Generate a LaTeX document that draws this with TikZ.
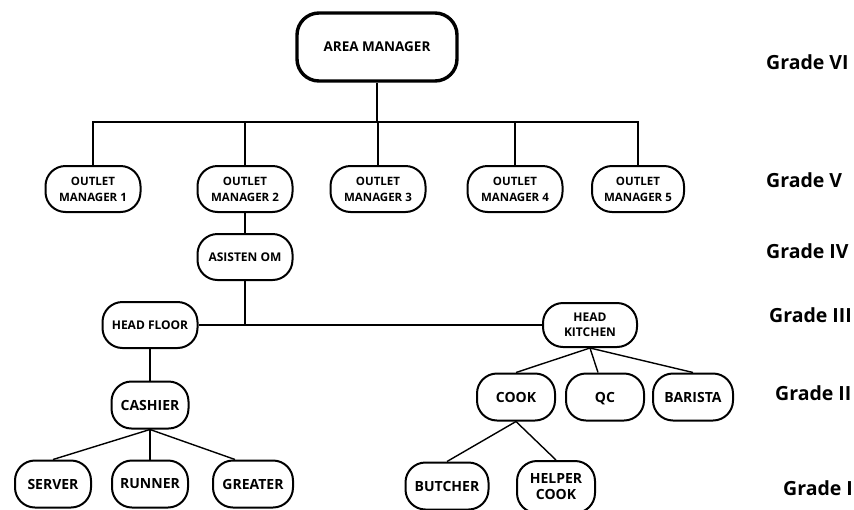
\documentclass[tikz,border=0pt]{standalone}
\usepackage{fontspec}
\setmainfont{Open Sans}
\begin{document}
\begin{tikzpicture}[x=1pt,y=-1pt,
  pill/.style={draw,line width=2pt,rounded corners=20pt,inner sep=0pt,
    minimum height=46pt,align=center,font=\bfseries\fontsize{14}{16}\selectfont},
  small/.style={font=\bfseries\fontsize{11.5}{16}\selectfont},
  mid/.style={font=\bfseries\fontsize{12}{15}\selectfont},
  conn/.style={line width=1.4pt},
  grade/.style={anchor=base west,inner sep=0pt,font=\bfseries\fontsize{19.5}{22}\selectfont}]
\useasboundingbox (0,0) rectangle (854,509);
% top
\node[draw,line width=3.4pt,rounded corners=22pt,minimum width=160pt,minimum height=68pt,
  font=\bfseries\fontsize{13.5}{16}\selectfont] (am) at (377,47) {AREA MANAGER};
% grade V
\node[pill,small,minimum width=95pt] (om1) at (93,189) {OUTLET\\MANAGER 1};
\node[pill,small,minimum width=95pt] (om2) at (245,189) {OUTLET\\MANAGER 2};
\node[pill,small,minimum width=95pt] (om3) at (378,189) {OUTLET\\MANAGER 3};
\node[pill,small,minimum width=95pt] (om4) at (515,189) {OUTLET\\MANAGER 4};
\node[pill,small,minimum width=92pt] (om5) at (638,189) {OUTLET\\MANAGER 5};
% grade IV
\node[pill,mid,minimum width=95pt] (ao) at (245,257) {ASISTEN OM};
% grade III
\node[pill,mid,minimum width=95pt] (hf) at (150,325) {HEAD FLOOR};
\node[pill,mid,minimum width=94pt,minimum height=44pt] (hk) at (590,325) {HEAD\\KITCHEN};
% grade II
\node[pill,minimum width=77pt,minimum height=47pt] (ca) at (150,405) {CASHIER};
\node[pill,minimum width=78pt,minimum height=47pt] (co) at (516,397) {COOK};
\node[pill,minimum width=78pt,minimum height=47pt,text depth=0pt] (qc) at (605,397) {QC};
\node[pill,minimum width=80pt,minimum height=47pt] (ba) at (693,397) {BARISTA};
% grade I
\node[pill,minimum width=76pt,minimum height=47pt] (se) at (53,484) {SERVER};
\node[pill,minimum width=76pt,minimum height=47pt] (ru) at (150,484) {RUNNER};
\node[pill,minimum width=80pt,minimum height=47pt] (gr) at (253,484) {GREATER};
\node[pill,minimum width=83pt,minimum height=47pt] (bu) at (447,486) {BUTCHER};
\node[pill,minimum width=78pt,minimum height=52pt] (hc) at (556,487) {HELPER\\COOK};
% connectors
\coordinate (bus) at (0,122);
\draw[conn] (om1.north) |- (bus -| om5.north) -- (om5.north);
\draw[conn] (am.south) -- (am.south |- bus);
\draw[conn] (om2.north) -- (om2.north |- bus);
\draw[conn] (om3.north) -- (om3.north |- bus);
\draw[conn] (om4.north) -- (om4.north |- bus);
\draw[conn] (om2.south) -- (ao.north);
\draw[conn] (hf.east) -- (hk.west);
\draw[conn] (ao.south) -- (ao.south |- hf.east);
\draw[conn] (hf.south) -- (ca.north);
\draw[conn] (ca.south) -- (se.north);
\draw[conn] (ca.south) -- (ru.north);
\draw[conn] (ca.south) -- ([xshift=-18pt]gr.north);
\draw[conn] (hk.south) -- (co.north);
\draw[conn] (hk.south) -- ([xshift=-7pt]qc.north);
\draw[conn] (hk.south) -- (ba.north);
\draw[conn] (co.south) -- (bu.north);
\draw[conn] (co.south) -- (hc.north);
% grades
\node[grade] (g6) at (766,69) {Grade VI};
\node[grade] (g5) at (766,187) {Grade V};
\node[grade] (g4) at (766,258) {Grade IV};
\node[grade] (g3) at (769,322) {Grade III};
\node[grade] (g2) at (775,400) {Grade II};
\node[grade] (g1) at (783,495) {Grade I};
\end{tikzpicture}
\end{document}
